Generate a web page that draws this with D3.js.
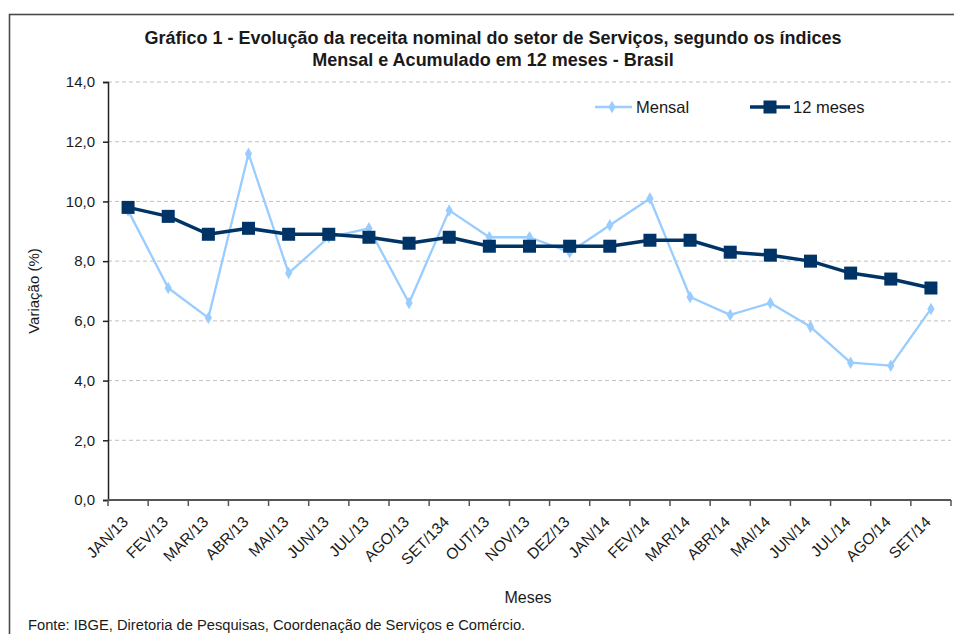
<!DOCTYPE html>
<html>
<head>
<meta charset="utf-8">
<script src="https://cdn.jsdelivr.net/npm/d3@7"></script>
<style>
  html, body { margin: 0; padding: 0; background: #fff; }
  svg { display: block; font-family: "Liberation Sans", Arial, sans-serif; }
</style>
</head>
<body>
<svg id="chart" width="954" height="634"></svg>
<script>
const categories = ["JAN/13","FEV/13","MAR/13","ABR/13","MAI/13","JUN/13","JUL/13","AGO/13","SET/134","OUT/13","NOV/13","DEZ/13","JAN/14","FEV/14","MAR/14","ABR/14","MAI/14","JUN/14","JUL/14","AGO/14","SET/14"];
const mensal = [9.7, 7.1, 6.1, 11.6, 7.6, 8.8, 9.1, 6.6, 9.7, 8.8, 8.8, 8.3, 9.2, 10.1, 6.8, 6.2, 6.6, 5.8, 4.6, 4.5, 6.4];
const meses12 = [9.8, 9.5, 8.9, 9.1, 8.9, 8.9, 8.8, 8.6, 8.8, 8.5, 8.5, 8.5, 8.5, 8.7, 8.7, 8.3, 8.2, 8.0, 7.6, 7.4, 7.1];
const yTicks = [0, 2, 4, 6, 8, 10, 12, 14];
const seriesNames = ["Mensal", "12 meses"];
const titleLines = ["Gráfico 1 - Evolução da receita nominal do setor de Serviços, segundo os índices", "Mensal e Acumulado em 12 meses - Brasil"];

(function () {
const svg = d3.select("#chart");
const pL = 108, pR = 951, pT = 82, pB = 500;
const colMensal = "#99CCFF", col12 = "#003366";

const x = d3.scaleBand().domain(categories).range([pL, pR]).padding(0);
const y = d3.scaleLinear().domain([0, 14]).range([pB, pT]);
const cx = d => x(d) + x.bandwidth() / 2;
const fmt = v => d3.format(".1f")(v).replace(".", ",");

// frame
svg.append("rect").attr("x", 9.5).attr("y", 14.5).attr("width", 980).attr("height", 660)
  .attr("fill", "none").attr("stroke", "#4a4a4a").attr("stroke-width", 1.6);

// title
svg.append("g").selectAll("text").data(titleLines).join("text")
  .attr("x", 493).attr("y", (d, i) => 44 + i * 21.5)
  .attr("text-anchor", "middle").attr("font-weight", "bold").attr("font-size", 18)
  .attr("fill", "#1a1a1a").text(d => d);

// grid
svg.append("g").selectAll("line").data(yTicks.filter(t => t > 0)).join("line")
  .attr("x1", pL).attr("x2", pR).attr("y1", d => y(d)).attr("y2", d => y(d))
  .attr("stroke", "#c0c0c0").attr("stroke-width", 1).attr("stroke-dasharray", "4,3");

// y axis
const yAxis = svg.append("g").attr("transform", `translate(${pL},0)`)
  .call(d3.axisLeft(y).tickValues(yTicks).tickFormat(fmt).tickSize(5).tickPadding(8));
yAxis.select(".domain").attr("stroke", "#222").attr("stroke-width", 1.5);
yAxis.selectAll(".tick line").attr("stroke", "#222").attr("stroke-width", 1.5);
yAxis.selectAll(".tick text").attr("font-size", 15).attr("fill", "#1a1a1a")
  .attr("font-family", "Liberation Sans, Arial, sans-serif");

// x axis
const xg = svg.append("g");
xg.append("line").attr("x1", pL).attr("x2", pR).attr("y1", pB).attr("y2", pB)
  .attr("stroke", "#555").attr("stroke-width", 2);
const tickPos = categories.map(c => x(c)).concat([x(categories[categories.length - 1]) + x.bandwidth()]);
xg.selectAll("line.tk").data(tickPos).join("line").attr("class", "tk")
  .attr("x1", d => d).attr("x2", d => d).attr("y1", pB).attr("y2", pB + 6)
  .attr("stroke", "#555").attr("stroke-width", 1.5);
xg.selectAll("text").data(categories).join("text")
  .attr("transform", d => `translate(${cx(d) + 1},${pB + 23}) rotate(-45)`)
  .attr("text-anchor", "end").attr("font-size", 15.5).attr("fill", "#1a1a1a").text(d => d);

// axis titles
svg.append("text").attr("transform", `translate(39,291) rotate(-90)`)
  .attr("text-anchor", "middle").attr("font-size", 15).attr("fill", "#1a1a1a").text("Variação (%)");
svg.append("text").attr("x", 528).attr("y", 603).attr("text-anchor", "middle")
  .attr("font-size", 16).attr("fill", "#1a1a1a").text("Meses");
svg.append("text").attr("x", 28).attr("y", 630).attr("font-size", 14.7).attr("fill", "#1a1a1a")
  .text("Fonte: IBGE, Diretoria de Pesquisas, Coordenação de Serviços e Comércio.");

// lines
const line = d3.line().x((d, i) => cx(categories[i])).y(d => y(d));
svg.append("path").datum(mensal).attr("d", line).attr("fill", "none")
  .attr("stroke", colMensal).attr("stroke-width", 2.3).attr("stroke-linejoin", "round");
const diamond = d3.symbol().type(d3.symbolDiamond).size(45);
svg.append("g").selectAll("path").data(mensal).join("path")
  .attr("transform", (d, i) => `translate(${cx(categories[i])},${y(d)})`)
  .attr("d", diamond).attr("fill", colMensal);

svg.append("path").datum(meses12).attr("d", line).attr("fill", "none")
  .attr("stroke", col12).attr("stroke-width", 3.5).attr("stroke-linejoin", "round");
svg.append("g").selectAll("rect").data(meses12).join("rect")
  .attr("x", (d, i) => cx(categories[i]) - 6.5).attr("y", d => y(d) - 6.5)
  .attr("width", 13).attr("height", 13).attr("fill", col12);

// legend
const lg = svg.append("g");
lg.append("line").attr("x1", 595).attr("x2", 632).attr("y1", 107).attr("y2", 107)
  .attr("stroke", colMensal).attr("stroke-width", 2.3);
lg.append("path").attr("transform", "translate(612,107)").attr("d", diamond).attr("fill", colMensal);
lg.append("text").attr("x", 636).attr("y", 113).attr("font-size", 16.5).attr("fill", "#1a1a1a").text(seriesNames[0]);
lg.append("line").attr("x1", 750).attr("x2", 790).attr("y1", 107).attr("y2", 107)
  .attr("stroke", col12).attr("stroke-width", 3.5);
lg.append("rect").attr("x", 763.5).attr("y", 100.5).attr("width", 13).attr("height", 13).attr("fill", col12);
lg.append("text").attr("x", 793).attr("y", 113).attr("font-size", 16.5).attr("fill", "#1a1a1a").text(seriesNames[1]);
})();
</script>
</body>
</html>
